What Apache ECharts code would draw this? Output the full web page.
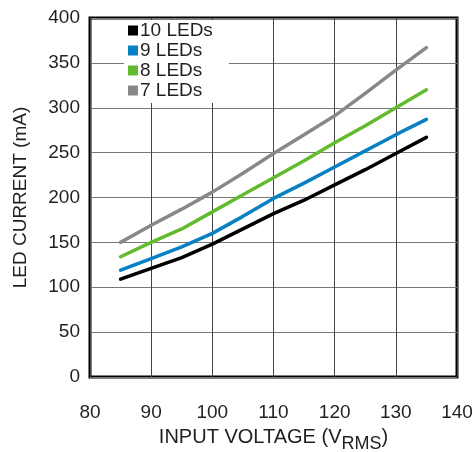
<!DOCTYPE html>
<html>
<head>
<meta charset="utf-8">
<script src="https://cdn.jsdelivr.net/npm/echarts@6/dist/echarts.min.js"></script>
<style>html,body{margin:0;padding:0;background:#fff;overflow:hidden;}#c{width:475px;height:452px;}</style>
</head>
<body>
<div id="c"></div>
<script>
var voltages = [85, 90, 95, 100, 105, 110, 115, 120, 125, 130, 135];
var leds10 = [109, 121, 133, 148, 165, 182, 197, 214, 231, 249, 267];
var leds9  = [119, 132, 145, 160, 179, 199, 216, 234, 252, 270, 287];
var leds8  = [134, 150, 165, 184, 203, 222, 241, 261, 280, 300, 320];
var leds7  = [150, 169, 187, 206, 227, 249, 270, 291, 316, 342, 367];
var seriesNames = ['10 LEDs', '9 LEDs', '8 LEDs', '7 LEDs'];
var seriesColors = ['#000000', '#0a80c4', '#62bb2e', '#888888'];
var xTicks = [80, 90, 100, 110, 120, 130, 140];
var yTicks = [0, 50, 100, 150, 200, 250, 300, 350, 400];

function pairs(ys){ return voltages.map(function(v,i){ return [v, ys[i]]; }); }
var allData = [leds10, leds9, leds8, leds7];
var font = 'Liberation Sans, Arial, sans-serif';
var txt = '#231f20';

var chart = echarts.init(document.getElementById('c'), null, {renderer:'canvas', width: 475, height: 452});
chart.setOption({
  animation: false,
  textStyle: {fontFamily: font},
  grid: {left: 90, width: 367, top: 18, height: 359, show: true, borderColor: '#000', borderWidth: 3, containLabel: false, outerBoundsMode: 'none'},
  legend: {
    data: seriesNames,
    orient: 'vertical',
    left: 124, top: 20,
    icon: 'rect', itemWidth: 10, itemHeight: 10, itemGap: 1,
    backgroundColor: '#fff',
    padding: [1, 16, 3, 4],
    textStyle: {fontFamily: font, fontSize: 19, color: txt, padding: [0,0,0,-3], lineHeight: 18.5}
  },
  xAxis: {
    type: 'value', min: xTicks[0], max: xTicks[xTicks.length-1], interval: 10,
    axisLine: {show: false}, axisTick: {show: false},
    axisLabel: {fontFamily: font, fontSize: 19, color: txt, margin: 26},
    splitLine: {show: true, lineStyle: {color: '#444', width: 1}},
    name: '{a|INPUT VOLTAGE (V}{s|RMS}{a|)}',
    nameLocation: 'middle', nameGap: 50,
    nameTextStyle: {
      rich: {
        a: {fontFamily: font, fontSize: 20, color: txt, lineHeight: 26, verticalAlign: 'top'},
        s: {fontFamily: font, fontSize: 18, color: txt, lineHeight: 26, verticalAlign: 'bottom', padding: [6,0,0,0]}
      }
    }
  },
  yAxis: {
    type: 'value', min: yTicks[0], max: yTicks[yTicks.length-1], interval: 50,
    axisLine: {show: false}, axisTick: {show: false},
    axisLabel: {fontFamily: font, fontSize: 19, color: txt, margin: 10},
    splitLine: {show: true, lineStyle: {color: '#777', width: 1}},
    name: 'LED CURRENT (mA)', nameLocation: 'middle', nameGap: 60,
    nameTextStyle: {fontFamily: font, fontSize: 19, color: txt}
  },
  series: seriesNames.map(function(n, i){
    return {
      name: n, type: 'line', data: pairs(allData[i]),
      showSymbol: false, symbol: 'none',
      itemStyle: {color: seriesColors[i]},
      lineStyle: {color: seriesColors[i], width: 3.5, cap: 'round', join: 'round'}
    };
  })
});
</script>
</body>
</html>
